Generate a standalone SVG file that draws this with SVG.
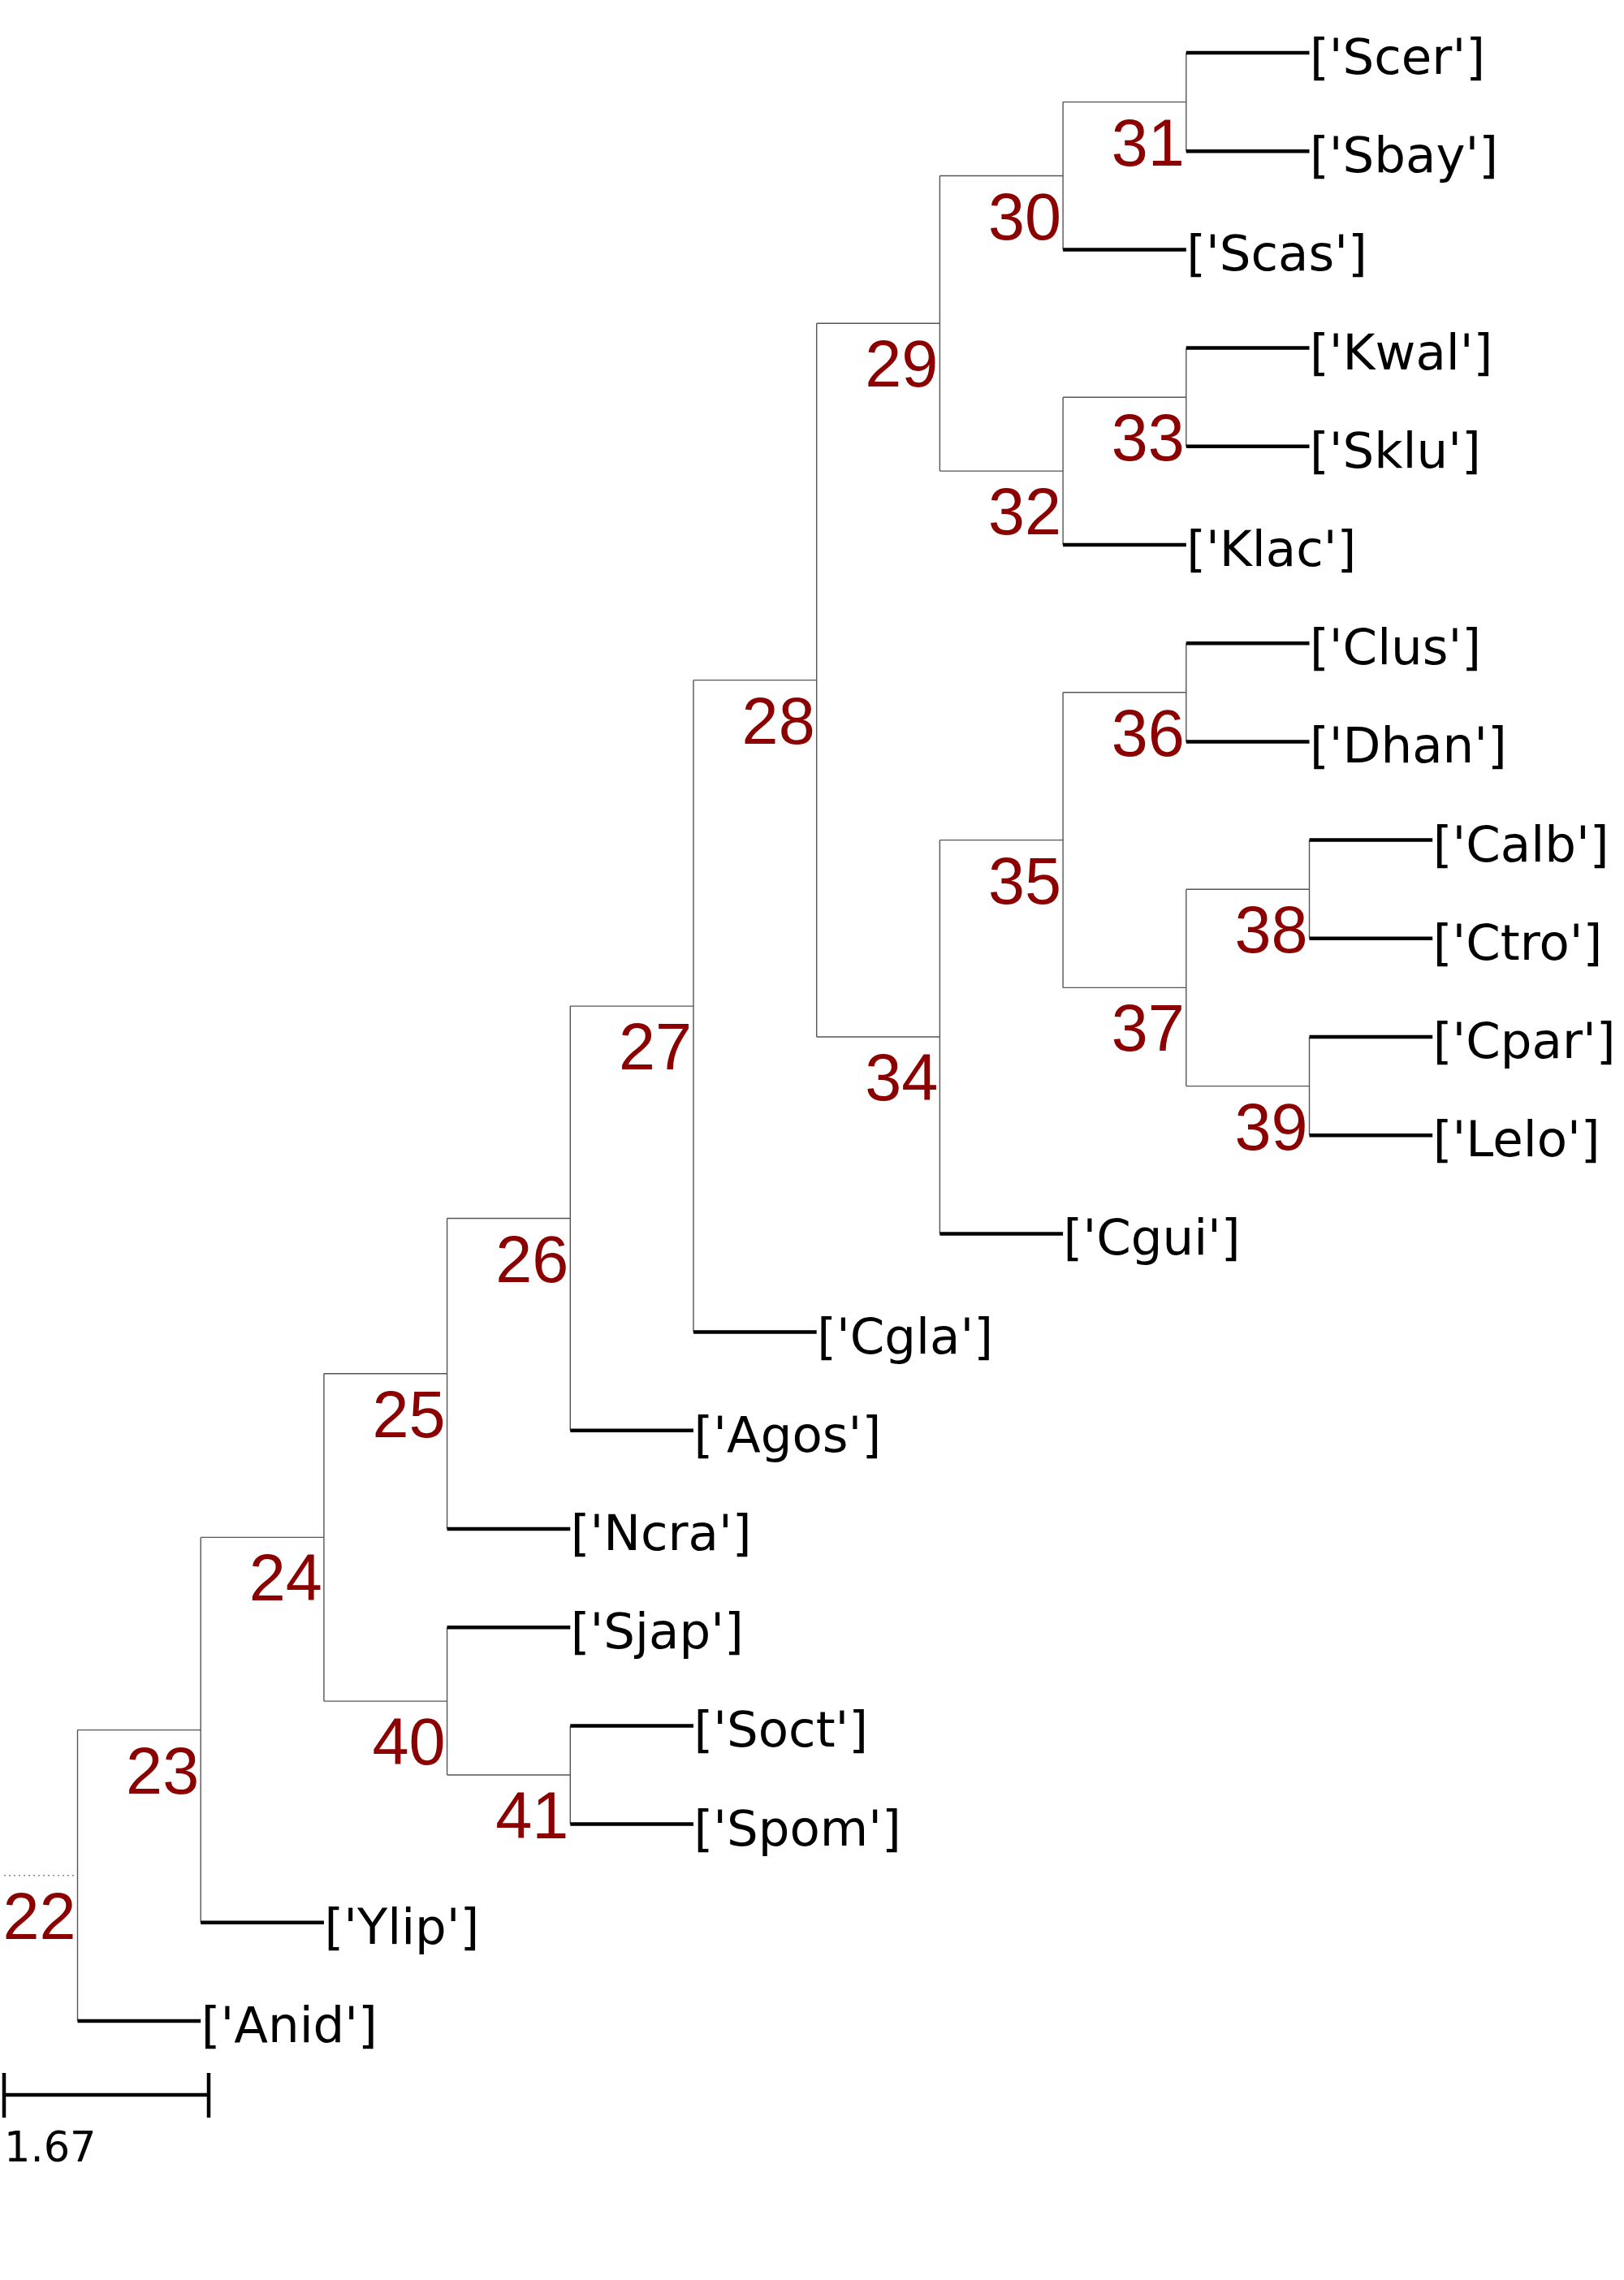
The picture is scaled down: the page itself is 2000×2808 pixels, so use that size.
<svg xmlns="http://www.w3.org/2000/svg" width="2000" height="2808" viewBox="0 0 2000 2808">
<style>
.bg{fill:#ffffff}
.br{stroke:#555555;stroke-width:1.4;fill:none}
.lf{stroke:#000000;stroke-width:4.5;fill:none}
.root{stroke:#888888;stroke-width:1.4;stroke-dasharray:2,4;fill:none}
.sb{stroke:#000000;stroke-width:4.5;fill:none}
.nl{font-family:"Liberation Sans",Arial,sans-serif;font-size:81px;fill:#8b0000;text-anchor:end}
.tl{font-family:"DejaVu Sans",Verdana,sans-serif;font-size:61px;fill:#000000}
.sl{font-family:"DejaVu Sans",Verdana,sans-serif;font-size:51px;fill:#000000}
</style>
<rect class="bg" x="0" y="0" width="2000" height="2808"/>
<g id="connectors">
<line class="root" x1="5" y1="2309.8" x2="95.5" y2="2309.8"/>
<line class="br" x1="95.5" y1="2130.6" x2="95.5" y2="2489"/>
<line class="br" x1="247.2" y1="1893.4" x2="247.2" y2="2367.8"/>
<line class="br" x1="398.9" y1="1691.7" x2="398.9" y2="2095.1"/>
<line class="br" x1="550.6" y1="1500.5" x2="550.6" y2="1883"/>
<line class="br" x1="702.3" y1="1239.1" x2="702.3" y2="1761.8"/>
<line class="br" x1="854" y1="837.65" x2="854" y2="1640.6"/>
<line class="br" x1="1005.7" y1="398.3" x2="1005.7" y2="1277"/>
<line class="br" x1="1157.4" y1="216.5" x2="1157.4" y2="580.1"/>
<line class="br" x1="1309.1" y1="125.6" x2="1309.1" y2="307.4"/>
<line class="br" x1="1460.8" y1="65" x2="1460.8" y2="186.2"/>
<line class="br" x1="1309.1" y1="489.2" x2="1309.1" y2="671"/>
<line class="br" x1="1460.8" y1="428.6" x2="1460.8" y2="549.8"/>
<line class="br" x1="1157.4" y1="1034.6" x2="1157.4" y2="1519.4"/>
<line class="br" x1="1309.1" y1="852.8" x2="1309.1" y2="1216.4"/>
<line class="br" x1="1460.8" y1="792.2" x2="1460.8" y2="913.4"/>
<line class="br" x1="1460.8" y1="1095.2" x2="1460.8" y2="1337.6"/>
<line class="br" x1="1612.5" y1="1034.6" x2="1612.5" y2="1155.8"/>
<line class="br" x1="1612.5" y1="1277" x2="1612.5" y2="1398.2"/>
<line class="br" x1="550.6" y1="2004.2" x2="550.6" y2="2186"/>
<line class="br" x1="702.3" y1="2125.4" x2="702.3" y2="2246.6"/>
<line class="br" x1="95.5" y1="2130.6" x2="247.2" y2="2130.6"/>
<line class="br" x1="247.2" y1="1893.4" x2="398.9" y2="1893.4"/>
<line class="br" x1="398.9" y1="1691.7" x2="550.6" y2="1691.7"/>
<line class="br" x1="550.6" y1="1500.5" x2="702.3" y2="1500.5"/>
<line class="br" x1="702.3" y1="1239.1" x2="854" y2="1239.1"/>
<line class="br" x1="854" y1="837.65" x2="1005.7" y2="837.65"/>
<line class="br" x1="1005.7" y1="398.3" x2="1157.4" y2="398.3"/>
<line class="br" x1="1157.4" y1="216.5" x2="1309.1" y2="216.5"/>
<line class="br" x1="1309.1" y1="125.6" x2="1460.8" y2="125.6"/>
<line class="br" x1="1157.4" y1="580.1" x2="1309.1" y2="580.1"/>
<line class="br" x1="1309.1" y1="489.2" x2="1460.8" y2="489.2"/>
<line class="br" x1="1005.7" y1="1277" x2="1157.4" y2="1277"/>
<line class="br" x1="1157.4" y1="1034.6" x2="1309.1" y2="1034.6"/>
<line class="br" x1="1309.1" y1="852.8" x2="1460.8" y2="852.8"/>
<line class="br" x1="1309.1" y1="1216.4" x2="1460.8" y2="1216.4"/>
<line class="br" x1="1460.8" y1="1095.2" x2="1612.5" y2="1095.2"/>
<line class="br" x1="1460.8" y1="1337.6" x2="1612.5" y2="1337.6"/>
<line class="br" x1="398.9" y1="2095.1" x2="550.6" y2="2095.1"/>
<line class="br" x1="550.6" y1="2186" x2="702.3" y2="2186"/>
<line class="lf" x1="1460.8" y1="65" x2="1612.5" y2="65"/>
<line class="lf" x1="1460.8" y1="186.2" x2="1612.5" y2="186.2"/>
<line class="lf" x1="1309.1" y1="307.4" x2="1460.8" y2="307.4"/>
<line class="lf" x1="1460.8" y1="428.6" x2="1612.5" y2="428.6"/>
<line class="lf" x1="1460.8" y1="549.8" x2="1612.5" y2="549.8"/>
<line class="lf" x1="1309.1" y1="671" x2="1460.8" y2="671"/>
<line class="lf" x1="1460.8" y1="792.2" x2="1612.5" y2="792.2"/>
<line class="lf" x1="1460.8" y1="913.4" x2="1612.5" y2="913.4"/>
<line class="lf" x1="1612.5" y1="1034.6" x2="1764.2" y2="1034.6"/>
<line class="lf" x1="1612.5" y1="1155.8" x2="1764.2" y2="1155.8"/>
<line class="lf" x1="1612.5" y1="1277" x2="1764.2" y2="1277"/>
<line class="lf" x1="1612.5" y1="1398.2" x2="1764.2" y2="1398.2"/>
<line class="lf" x1="1157.4" y1="1519.4" x2="1309.1" y2="1519.4"/>
<line class="lf" x1="854" y1="1640.6" x2="1005.7" y2="1640.6"/>
<line class="lf" x1="702.3" y1="1761.8" x2="854" y2="1761.8"/>
<line class="lf" x1="550.6" y1="1883" x2="702.3" y2="1883"/>
<line class="lf" x1="550.6" y1="2004.2" x2="702.3" y2="2004.2"/>
<line class="lf" x1="702.3" y1="2125.4" x2="854" y2="2125.4"/>
<line class="lf" x1="702.3" y1="2246.6" x2="854" y2="2246.6"/>
<line class="lf" x1="247.2" y1="2367.8" x2="398.9" y2="2367.8"/>
<line class="lf" x1="95.5" y1="2489" x2="247.2" y2="2489"/>
</g>
<g id="n22"><text class="nl" x="93.5" y="2388">22</text></g>
<g id="n23"><text class="nl" x="245.2" y="2208.6">23</text></g>
<g id="n24"><text class="nl" x="396.9" y="1971.4">24</text></g>
<g id="n25"><text class="nl" x="548.6" y="1769.7">25</text></g>
<g id="n26"><text class="nl" x="700.3" y="1578.5">26</text></g>
<g id="n27"><text class="nl" x="852" y="1317.1">27</text></g>
<g id="n28"><text class="nl" x="1003.7" y="915.65">28</text></g>
<g id="n29"><text class="nl" x="1155.4" y="476.3">29</text></g>
<g id="n30"><text class="nl" x="1307.1" y="294.5">30</text></g>
<g id="n31"><text class="nl" x="1458.8" y="203.6">31</text></g>
<g id="n32"><text class="nl" x="1307.1" y="658.1">32</text></g>
<g id="n33"><text class="nl" x="1458.8" y="567.2">33</text></g>
<g id="n34"><text class="nl" x="1155.4" y="1355">34</text></g>
<g id="n35"><text class="nl" x="1307.1" y="1112.6">35</text></g>
<g id="n36"><text class="nl" x="1458.8" y="930.8">36</text></g>
<g id="n37"><text class="nl" x="1458.8" y="1294.4">37</text></g>
<g id="n38"><text class="nl" x="1610.5" y="1173.2">38</text></g>
<g id="n39"><text class="nl" x="1610.5" y="1415.6">39</text></g>
<g id="n40"><text class="nl" x="548.6" y="2173.1">40</text></g>
<g id="n41"><text class="nl" x="700.3" y="2264">41</text></g>
<g id="leaf-Scer"><text class="tl" x="1613" y="91">['Scer']</text></g>
<g id="leaf-Sbay"><text class="tl" x="1613" y="212.2">['Sbay']</text></g>
<g id="leaf-Scas"><text class="tl" x="1461.3" y="333.4">['Scas']</text></g>
<g id="leaf-Kwal"><text class="tl" x="1613" y="454.6">['Kwal']</text></g>
<g id="leaf-Sklu"><text class="tl" x="1613" y="575.8">['Sklu']</text></g>
<g id="leaf-Klac"><text class="tl" x="1461.3" y="697">['Klac']</text></g>
<g id="leaf-Clus"><text class="tl" x="1613" y="818.2">['Clus']</text></g>
<g id="leaf-Dhan"><text class="tl" x="1613" y="939.4">['Dhan']</text></g>
<g id="leaf-Calb"><text class="tl" x="1764.7" y="1060.6">['Calb']</text></g>
<g id="leaf-Ctro"><text class="tl" x="1764.7" y="1181.8">['Ctro']</text></g>
<g id="leaf-Cpar"><text class="tl" x="1764.7" y="1303">['Cpar']</text></g>
<g id="leaf-Lelo"><text class="tl" x="1764.7" y="1424.2">['Lelo']</text></g>
<g id="leaf-Cgui"><text class="tl" x="1309.6" y="1545.4">['Cgui']</text></g>
<g id="leaf-Cgla"><text class="tl" x="1006.2" y="1666.6">['Cgla']</text></g>
<g id="leaf-Agos"><text class="tl" x="854.5" y="1787.8">['Agos']</text></g>
<g id="leaf-Ncra"><text class="tl" x="702.8" y="1909">['Ncra']</text></g>
<g id="leaf-Sjap"><text class="tl" x="702.8" y="2030.2">['Sjap']</text></g>
<g id="leaf-Soct"><text class="tl" x="854.5" y="2151.4">['Soct']</text></g>
<g id="leaf-Spom"><text class="tl" x="854.5" y="2272.6">['Spom']</text></g>
<g id="leaf-Ylip"><text class="tl" x="399.4" y="2393.8">['Ylip']</text></g>
<g id="leaf-Anid"><text class="tl" x="247.7" y="2515">['Anid']</text></g>
<g id="scalebar">
<line class="sb" x1="5" y1="2580" x2="257" y2="2580"/>
<line class="sb" x1="5" y1="2553" x2="5" y2="2608"/>
<line class="sb" x1="257" y1="2553" x2="257" y2="2608"/>
<text class="sl" x="5" y="2662">1.67</text>
</g>
</svg>
